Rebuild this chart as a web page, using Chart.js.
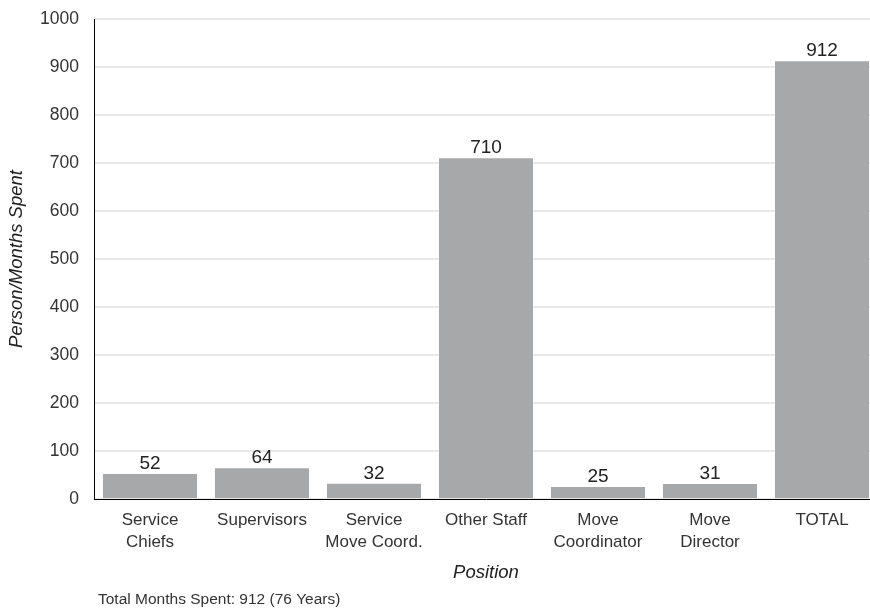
<!DOCTYPE html>
<html>
<head>
<meta charset="utf-8">
<script src="https://cdn.jsdelivr.net/npm/chart.js@4/dist/chart.umd.min.js"></script>
<style>
  html, body { margin: 0; padding: 0; background: #fff; overflow: hidden; }
  #wrap { position: relative; width: 880px; height: 608px; }
</style>
</head>
<body>
<div id="wrap"><canvas id="c"></canvas></div>
<script>
// Person/months spent per position
const categories = [
  ['Service', 'Chiefs'],
  'Supervisors',
  ['Service', 'Move Coord.'],
  'Other Staff',
  ['Move', 'Coordinator'],
  ['Move', 'Director'],
  'TOTAL'
];
const monthsSpent = [52, 64, 32, 710, 25, 31, 912];
const yTicks = { min: 0, max: 1000, step: 100 };
const footnote = 'Total Months Spent: 912 (76 Years)';

const FONT = "'Liberation Sans', Arial, Helvetica, sans-serif";
const TEXT = '#333333';

// value printed above each bar
const barValues = {
  id: 'barValues',
  afterDatasetsDraw(chart) {
    const ctx = chart.ctx;
    const meta = chart.getDatasetMeta(0);
    ctx.save();
    ctx.font = '19px ' + FONT;
    ctx.fillStyle = '#222222';
    ctx.textAlign = 'center';
    ctx.textBaseline = 'alphabetic';
    meta.data.forEach((bar, i) => {
      ctx.fillText(String(monthsSpent[i]), bar.x, bar.y - 5);
    });
    ctx.restore();
  }
};

// note under the chart
const footer = {
  id: 'footer',
  afterDraw(chart) {
    const ctx = chart.ctx;
    ctx.save();
    ctx.font = '15.5px ' + FONT;
    ctx.fillStyle = TEXT;
    ctx.textAlign = 'left';
    ctx.textBaseline = 'middle';
    ctx.fillText(footnote, chart.chartArea.left + 4, 600);
    ctx.restore();
  }
};

new Chart(document.getElementById('c'), {
  type: 'bar',
  data: {
    labels: categories,
    datasets: [{
      data: monthsSpent,
      backgroundColor: '#a7a8aa',
      borderWidth: 0,
      barPercentage: 0.84,
      categoryPercentage: 1.0
    }]
  },
  options: {
    responsive: true,
    maintainAspectRatio: false,
    animation: false,
    layout: { padding: { top: 19, right: 2, bottom: 24, left: 0 } },
    plugins: {
      legend: { display: false },
      tooltip: { enabled: false }
    },
    scales: {
      x: {
        grid: { display: false, drawTicks: false },
        border: { display: true, color: '#000000', width: 1 },
        ticks: {
          color: TEXT,
          font: { family: FONT, size: 17, lineHeight: 1.3 },
          padding: 10,
          maxRotation: 0,
          autoSkip: false
        },
        title: {
          display: true,
          text: 'Position',
          color: '#222222',
          font: { family: FONT, size: 18.5, style: 'italic' },
          padding: 0
        },
        afterFit(scale) {
          scale.height = 85;
          scale.paddingLeft = 0;
          scale.paddingRight = 0;
        }
      },
      y: {
        min: yTicks.min,
        max: yTicks.max,
        grid: { color: '#e8e8e8', lineWidth: 2, drawTicks: false },
        border: { display: true, color: '#000000', width: 1 },
        ticks: {
          stepSize: yTicks.step,
          color: TEXT,
          font: { family: FONT, size: 17.5 },
          padding: 15,
          callback: (v) => String(v)
        },
        title: {
          display: true,
          text: 'Person/Months Spent',
          color: '#222222',
          font: { family: FONT, size: 18.5, style: 'italic' },
          padding: { top: 6, bottom: 0 }
        },
        afterFit(scale) {
          scale.width = 94;
          scale.paddingTop = 0;
          scale.paddingBottom = 0;
        }
      }
    }
  },
  plugins: [barValues, footer]
});
</script>
</body>
</html>
